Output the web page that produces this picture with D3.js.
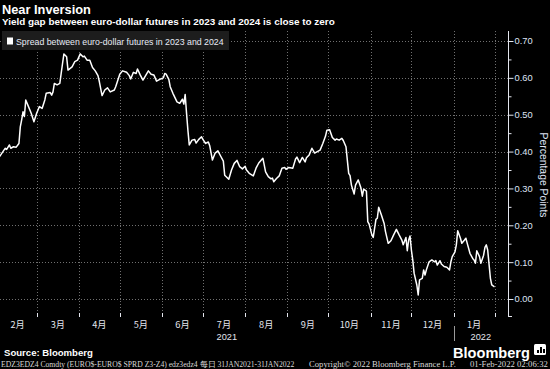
<!DOCTYPE html>
<html>
<head>
<meta charset="utf-8">
<script src="https://cdn.jsdelivr.net/npm/d3@7"></script>
<style>
  body { margin: 0; background: #000; }
  svg { display: block; font-family: "Liberation Sans", Arial, sans-serif; }
</style>
</head>
<body>
<svg id="chart" width="550" height="369"></svg>
<script>
// texts
const title = "Near Inversion";
const subtitle = "Yield gap between euro-dollar futures in 2023 and 2024 is close to zero";
const seriesName = "Spread between euro-dollar futures in 2023 and 2024";
const axisTitle = "Percentage Points";
const source = "Source: Bloomberg";
const footerLeft = "EDZ3EDZ4 Comdty (EURO$-EURO$ SPRD  Z3-Z4) edz3edz4  每日 31JAN2021-31JAN2022";
const footerMid = "Copyright© 2022 Bloomberg Finance L.P.";
const footerRight = "01-Feb-2022 02:06:32";

// axes
const yTicks = [0, 0.1, 0.2, 0.3, 0.4, 0.5, 0.6, 0.7];
const yMinorTicks = [0.05, 0.15, 0.25, 0.35, 0.45, 0.55, 0.65];
const monthLabels = ["2月", "3月", "4月", "5月", "6月", "7月", "8月", "9月", "10月", "11月", "12月", "1月"];
const yearLabels = ["2021", "2022"];

// series
const dates = [
  "2021-02-01","2021-02-05","2021-02-06","2021-02-07","2021-02-09","2021-02-10","2021-02-12","2021-02-14","2021-02-16","2021-02-17",
  "2021-02-18","2021-02-19","2021-02-20","2021-02-21","2021-02-23","2021-02-25","2021-02-27","2021-03-01","2021-03-02","2021-03-03",
  "2021-03-05","2021-03-07","2021-03-08","2021-03-11","2021-03-12","2021-03-13","2021-03-14","2021-03-16","2021-03-18","2021-03-19",
  "2021-03-20","2021-03-21","2021-03-23","2021-03-24","2021-03-27","2021-03-29","2021-03-31","2021-04-02","2021-04-04","2021-04-05",
  "2021-04-07","2021-04-09","2021-04-11","2021-04-13","2021-04-15","2021-04-16","2021-04-18","2021-04-20","2021-04-22","2021-04-24",
  "2021-04-27","2021-04-28","2021-05-01","2021-05-03","2021-05-06","2021-05-08","2021-05-09","2021-05-11","2021-05-13","2021-05-14",
  "2021-05-16","2021-05-18","2021-05-22","2021-05-24","2021-05-26","2021-05-28","2021-05-31","2021-06-02","2021-06-03","2021-06-04",
  "2021-06-06","2021-06-07","2021-06-09","2021-06-12","2021-06-14","2021-06-16","2021-06-17","2021-06-18","2021-06-19","2021-06-20",
  "2021-06-21","2021-06-23","2021-06-25","2021-06-26","2021-06-28","2021-06-30","2021-07-01","2021-07-03","2021-07-05","2021-07-06",
  "2021-07-08","2021-07-10","2021-07-12","2021-07-14","2021-07-16","2021-07-17","2021-07-20","2021-07-22","2021-07-24","2021-07-26",
  "2021-07-28","2021-07-30","2021-08-01","2021-08-02","2021-08-04","2021-08-07","2021-08-09","2021-08-11","2021-08-14","2021-08-15",
  "2021-08-16","2021-08-18","2021-08-20","2021-08-21","2021-08-22","2021-08-24","2021-08-26","2021-08-28","2021-08-30","2021-08-31",
  "2021-09-02","2021-09-05","2021-09-07","2021-09-08","2021-09-10","2021-09-12","2021-09-14","2021-09-15","2021-09-17","2021-09-19",
  "2021-09-21","2021-09-23","2021-09-25","2021-09-27","2021-09-29","2021-09-30","2021-10-02","2021-10-04","2021-10-06","2021-10-07",
  "2021-10-09","2021-10-11","2021-10-12","2021-10-14","2021-10-15","2021-10-16","2021-10-17","2021-10-18","2021-10-20","2021-10-21",
  "2021-10-23","2021-10-25","2021-10-26","2021-10-27","2021-10-29","2021-10-30","2021-10-31","2021-11-02","2021-11-03","2021-11-05",
  "2021-11-06","2021-11-07","2021-11-09","2021-11-11","2021-11-12","2021-11-14","2021-11-16","2021-11-18","2021-11-20","2021-11-22",
  "2021-11-24","2021-11-25","2021-11-27","2021-11-28","2021-11-29","2021-11-30","2021-12-01","2021-12-02","2021-12-03","2021-12-05",
  "2021-12-06","2021-12-07","2021-12-09","2021-12-10","2021-12-11","2021-12-12","2021-12-14","2021-12-16","2021-12-18","2021-12-19",
  "2021-12-20","2021-12-22","2021-12-23","2021-12-25","2021-12-27","2021-12-29","2021-12-30","2021-12-31","2022-01-02","2022-01-03",
  "2022-01-04","2022-01-06","2022-01-07","2022-01-09","2022-01-10","2022-01-11","2022-01-13","2022-01-15","2022-01-16","2022-01-17",
  "2022-01-18","2022-01-20","2022-01-21","2022-01-23","2022-01-24","2022-01-25","2022-01-26","2022-01-28","2022-01-29","2022-01-31"
];
const spread = [
  0.382,0.404,0.409,0.406,0.418,0.409,0.413,0.412,0.422,0.467,
  0.486,0.508,0.495,0.540,0.522,0.504,0.481,0.504,0.513,0.522,
  0.517,0.540,0.558,0.560,0.553,0.562,0.585,0.581,0.585,0.612,
  0.639,0.665,0.657,0.621,0.630,0.644,0.648,0.665,0.657,0.659,
  0.648,0.648,0.628,0.619,0.606,0.590,0.552,0.567,0.573,0.562,
  0.567,0.576,0.610,0.619,0.615,0.606,0.597,0.615,0.612,0.624,
  0.608,0.594,0.619,0.610,0.608,0.591,0.597,0.600,0.612,0.610,
  0.596,0.576,0.558,0.535,0.531,0.542,0.529,0.555,0.504,0.458,
  0.418,0.431,0.433,0.423,0.433,0.440,0.433,0.422,0.426,0.416,
  0.377,0.396,0.402,0.388,0.374,0.336,0.325,0.350,0.368,0.376,
  0.359,0.353,0.360,0.350,0.341,0.334,0.355,0.369,0.382,0.364,
  0.345,0.332,0.326,0.328,0.318,0.327,0.334,0.355,0.357,0.352,
  0.357,0.355,0.380,0.385,0.370,0.384,0.372,0.383,0.391,0.409,
  0.396,0.400,0.404,0.422,0.442,0.458,0.459,0.438,0.431,0.434,
  0.431,0.436,0.430,0.413,0.377,0.341,0.335,0.309,0.285,0.309,
  0.323,0.301,0.279,0.298,0.293,0.210,0.203,0.174,0.167,0.216,
  0.219,0.249,0.228,0.205,0.183,0.151,0.158,0.174,0.189,0.174,
  0.160,0.147,0.167,0.131,0.160,0.171,0.133,0.106,0.070,0.038,
  0.011,0.052,0.056,0.079,0.065,0.079,0.101,0.106,0.101,0.104,
  0.092,0.104,0.095,0.088,0.086,0.079,0.101,0.115,0.128,0.147,
  0.185,0.165,0.151,0.160,0.165,0.151,0.124,0.110,0.106,0.097,
  0.131,0.115,0.097,0.119,0.140,0.147,0.133,0.056,0.038,0.033
];

const W = 550, H = 369;
const plot = { left: 0, right: 508, top: 31, bottom: 317 };
const gridColor = "#707070";
const textColor = "#e4e6ee";

const svg = d3.select("#chart");
svg.append("rect").attr("width", W).attr("height", H).attr("fill", "#000");

// shrink / grow a text so it spans the wanted width
function fit(sel, width) {
  const len = sel.node().getComputedTextLength();
  const fs = parseFloat(sel.attr("font-size"));
  sel.attr("font-size", (fs * width / len).toFixed(2));
  return sel;
}

const parse = d3.timeParse("%Y-%m-%d");
const data = dates.map((d, i) => ({ date: parse(d), value: spread[i] }));

const x = d3.scaleTime()
  .domain([new Date(2021, 1, 1), new Date(2022, 0, 31)])
  .range([-1.5, 494.5]);
const y = d3.scaleLinear().domain([0, 0.7]).range([299, 41]);

// grid
const grid = svg.append("g").attr("stroke", gridColor).attr("stroke-dasharray", "1,2").attr("stroke-width", 1);
grid.selectAll(".hg").data(yTicks).join("line")
  .attr("x1", plot.left).attr("x2", plot.right)
  .attr("y1", d => Math.round(y(d)) + 0.5).attr("y2", d => Math.round(y(d)) + 0.5);

const monthStarts = d3.timeMonth.range(new Date(2021, 2, 1), new Date(2022, 1, 1));
const vx = monthStarts.map(d => x(d)).concat([x.range()[1]]);
grid.selectAll(".vg").data(vx).join("line")
  .attr("x1", d => Math.round(d) + 0.5).attr("x2", d => Math.round(d) + 0.5)
  .attr("y1", plot.top).attr("y2", plot.bottom);

// series line
svg.append("path")
  .datum(data)
  .attr("fill", "none")
  .attr("stroke", "#fff")
  .attr("stroke-width", 1.5)
  .attr("stroke-linejoin", "round")
  .attr("d", d3.line().x(d => x(d.date)).y(d => y(d.value)));

// right axis
const yAxis = svg.append("g").attr("transform", `translate(${plot.right + 0.5},0)`)
  .call(d3.axisRight(y).tickValues(yTicks).tickFormat(d3.format(".2f")).tickSize(5).tickPadding(1));
yAxis.select(".domain").remove();
yAxis.selectAll("line").attr("stroke", textColor);
yAxis.selectAll("text").attr("fill", "#dfe4f4").attr("font-size", 9.3)
  .attr("font-family", "'Liberation Sans', Arial, sans-serif");
const yMinor = svg.append("g").attr("transform", `translate(${plot.right + 0.5},0)`)
  .call(d3.axisRight(y).tickValues(yMinorTicks).tickFormat("").tickSize(3));
yMinor.select(".domain").remove();
yMinor.selectAll("line").attr("stroke", textColor);
svg.append("line")
  .attr("x1", plot.right + 0.5).attr("x2", plot.right + 0.5)
  .attr("y1", plot.top).attr("y2", plot.bottom)
  .attr("stroke", textColor);
svg.append("line")
  .attr("x1", plot.right).attr("x2", plot.right + 4)
  .attr("y1", plot.bottom - 0.5).attr("y2", plot.bottom - 0.5)
  .attr("stroke", textColor);

const at = svg.append("text")
  .attr("transform", "translate(539.5,175) rotate(90)")
  .attr("text-anchor", "middle")
  .attr("fill", "#dfe4f4")
  .attr("font-size", 10)
  .text(axisTitle);
fit(at, 85);

// bottom month ticks and labels
const xAxisG = svg.append("g");
xAxisG.selectAll(".mt").data(vx).join("line")
  .attr("x1", d => Math.round(d) + 0.5).attr("x2", d => Math.round(d) + 0.5)
  .attr("y1", plot.bottom - 4).attr("y2", plot.bottom)
  .attr("stroke", textColor);

const months = d3.timeMonth.range(new Date(2021, 1, 1), new Date(2022, 1, 1));
xAxisG.selectAll(".ml").data(months).join("text")
  .attr("x", d => {
    const a = Math.max(x(d), x.range()[0]);
    const b = Math.min(x(d3.timeMonth.offset(d, 1)), x.range()[1]);
    return (a + b) / 2;
  })
  .attr("y", 327.5)
  .attr("text-anchor", "middle")
  .attr("fill", textColor)
  .attr("font-size", 9.2)
  .attr("font-family", "'Noto Sans CJK SC', 'Liberation Sans', sans-serif")
  .text((d, i) => monthLabels[i]);

const yearEdge = x(new Date(2022, 0, 1));
const yearSpans = [[0, yearEdge], [yearEdge, plot.right]];
xAxisG.selectAll(".yl").data(yearLabels).join("text")
  .attr("x", (d, i) => (yearSpans[i][0] + yearSpans[i][1]) / 2)
  .attr("y", 339.5)
  .attr("text-anchor", "middle")
  .attr("fill", textColor)
  .attr("font-size", 9.2)
  .text(d => d);
xAxisG.append("line")
  .attr("x1", Math.round(yearEdge) + 0.5).attr("x2", Math.round(yearEdge) + 0.5)
  .attr("y1", 326).attr("y2", 341)
  .attr("stroke", "#9a9a9a");

// legend
svg.append("rect").attr("x", 2).attr("y", 31).attr("width", 227).attr("height", 19).attr("fill", "#1d1d1d");
svg.append("rect").attr("x", 7).attr("y", 37.5).attr("width", 6).attr("height", 7).attr("fill", "#fff");
const lt = svg.append("text").attr("x", 16).attr("y", 45).attr("fill", "#e8ebf5").attr("font-size", 9).text(seriesName);
fit(lt, 208);

// titles
const t1 = svg.append("text").attr("x", 2).attr("y", 14).attr("fill", "#fff")
  .attr("font-weight", "bold").attr("font-size", 13).text(title);
fit(t1, 89);
const t2 = svg.append("text").attr("x", 2).attr("y", 25).attr("fill", "#fff")
  .attr("font-weight", "bold").attr("font-size", 9).text(subtitle);
fit(t2, 333);

// source + logo
const st = svg.append("text").attr("x", 4).attr("y", 356).attr("fill", "#fff")
  .attr("font-weight", "bold").attr("font-size", 9).text(source);
fit(st, 89);
const logo = svg.append("text").attr("x", 453).attr("y", 357.5).attr("fill", "#fff")
  .attr("font-weight", "bold").attr("font-size", 16)
  .attr("font-family", "'Liberation Sans', Arial, sans-serif").text("Bloomberg");
fit(logo, 77);
svg.append("rect").attr("x", 534).attr("y", 344).attr("width", 12).attr("height", 11).attr("rx", 1.5).attr("fill", "#fff");
const bars = [[537, 350, 2, 3], [540, 347, 2, 6], [543, 349, 2, 4]];
svg.selectAll(".lb").data(bars).join("rect")
  .attr("x", d => d[0]).attr("y", d => d[1]).attr("width", d => d[2]).attr("height", d => d[3])
  .attr("fill", "#000");

// footer
const foot = [[footerLeft, 1, 294], [footerMid, 309, 147], [footerRight, 470, 78]];
foot.forEach(f => {
  const ft = svg.append("text").attr("x", f[1]).attr("y", 367).attr("fill", "#d8d8d8")
    .attr("font-size", 7.5).attr("font-family", "'Liberation Serif', 'DejaVu Serif', serif").text(f[0]);
  fit(ft, f[2]);
});
</script>
</body>
</html>
